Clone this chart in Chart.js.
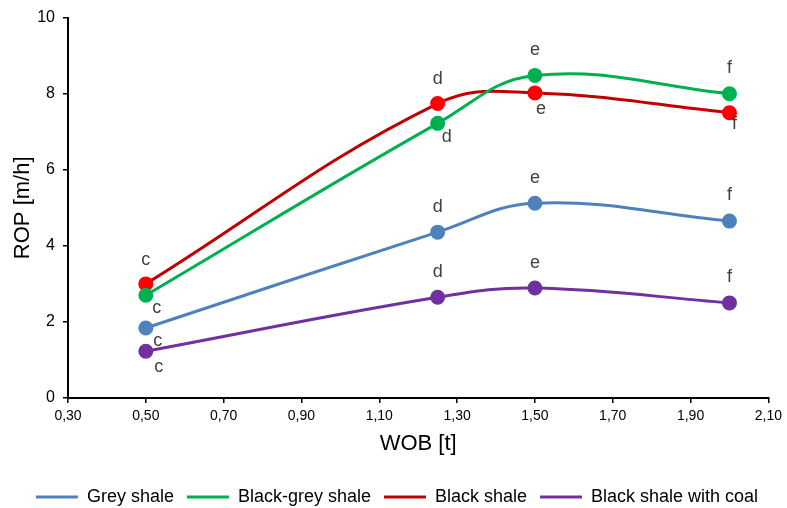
<!DOCTYPE html>
<html>
<head>
<meta charset="utf-8">
<script src="https://cdn.jsdelivr.net/npm/chart.js@4/dist/chart.umd.min.js"></script>
<style>
  html, body { margin: 0; padding: 0; background: #fff; overflow: hidden; }
  #wrap { width: 787px; height: 516px; }
</style>
</head>
<body>
<div id="wrap"><canvas id="chart"></canvas></div>
<script>
const wob = [0.5, 1.25, 1.5, 2.0];
const pointLetters = ['c', 'd', 'e', 'f'];
const greyShale = [1.84, 4.36, 5.12, 4.65];
const blackGreyShale = [2.7, 7.22, 8.48, 8.0];
const blackShale = [3.0, 7.74, 8.02, 7.5];
const blackShaleCoal = [1.23, 2.65, 2.89, 2.5];
const xTicks = [0.3, 0.5, 0.7, 0.9, 1.1, 1.3, 1.5, 1.7, 1.9, 2.1];

const FONT = '"Liberation Sans", Arial, sans-serif';

// where each letter sits relative to its point [dx, dy]
const labelOffsets = {
    'Grey shale': [[12, 13], [0, -25], [0, -25], [0, -26]],
    'Black-grey shale': [[11, 13], [9, 14], [0, -25], [0, -26]],
    'Black shale': [[0, -24], [0, -25], [6, 16], [5, 11]],
    'Black shale with coal': [[13, 16], [0, -25], [0, -25], [0, -26]]
};

function series(label, values, line, marker) {
    return {
        label: label,
        data: values.map((v, i) => ({ x: wob[i], y: v })),
        borderColor: line,
        backgroundColor: line,
        pointBackgroundColor: marker,
        pointBorderColor: marker,
        pointRadius: 6,
        pointHoverRadius: 6,
        borderWidth: 3,
        tension: 0.4,
        fill: false
    };
}

const letterPlugin = {
    id: 'letters',
    afterLayout(chart) {
        // legend sits a little right of centre in the original
        chart.legend.left += 12;
        chart.legend.right += 12;
    },
    afterDatasetsDraw(chart) {
        const ctx = chart.ctx;
        ctx.save();
        ctx.font = '18px ' + FONT;
        ctx.fillStyle = '#404040';
        ctx.textAlign = 'center';
        ctx.textBaseline = 'middle';
        chart.data.datasets.forEach((ds, di) => {
            const meta = chart.getDatasetMeta(di);
            meta.data.forEach((pt, i) => {
                const off = labelOffsets[ds.label][i];
                ctx.fillText(pointLetters[i], pt.x + off[0], pt.y + off[1]);
            });
        });
        ctx.restore();
    }
};

const ctx = document.getElementById('chart').getContext('2d');

new Chart(ctx, {
    type: 'line',
    data: {
        datasets: [
            series('Grey shale', greyShale, '#4F81BD', '#4F81BD'),
            series('Black-grey shale', blackGreyShale, '#00B050', '#00B050'),
            series('Black shale', blackShale, '#C00000', '#FF0000'),
            series('Black shale with coal', blackShaleCoal, '#7030A0', '#7030A0')
        ]
    },
    options: {
        responsive: true,
        maintainAspectRatio: false,
        animation: false,
        layout: { padding: { left: 0, right: 17, top: 17, bottom: 0 } },
        plugins: {
            tooltip: { enabled: false },
            legend: {
                position: 'bottom',
                labels: {
                    color: '#000',
                    font: { family: FONT, size: 18 },
                    usePointStyle: true,
                    pointStyle: 'line',
                    pointStyleWidth: 42,
                    padding: 13,
                    boxHeight: 3,
                    generateLabels: chart => Chart.defaults.plugins.legend.labels.generateLabels(chart)
                        .map((l, i) => ({ ...l, strokeStyle: chart.data.datasets[i].borderColor, lineWidth: 3 }))
                }
            }
        },
        scales: {
            x: {
                type: 'linear',
                min: 0.3,
                max: 2.1,
                afterBuildTicks: s => { s.ticks = xTicks.map(v => ({ value: v })); },
                afterFit: s => { s.height = 77; },
                ticks: {
                    color: '#000',
                    font: { family: FONT, size: 14 },
                    maxRotation: 0,
                    padding: 5,
                    callback: v => v.toFixed(2).replace('.', ',')
                },
                grid: { drawOnChartArea: false, drawTicks: true, tickLength: 5, color: '#000', lineWidth: 1.5 },
                border: { color: '#000', width: 2 },
                title: {
                    display: true,
                    text: 'WOB [t]',
                    color: '#000',
                    font: { family: FONT, size: 22 },
                    padding: { top: 0, bottom: 18 }
                }
            },
            y: {
                min: 0,
                max: 10,
                afterFit: s => { s.width = 68; },
                ticks: {
                    stepSize: 2,
                    color: '#000',
                    font: { family: FONT, size: 16 },
                    padding: 8
                },
                grid: { drawOnChartArea: false, drawTicks: true, tickLength: 5, color: '#000', lineWidth: 1.5 },
                border: { color: '#000', width: 2 },
                title: {
                    display: true,
                    text: 'ROP [m/h]',
                    color: '#000',
                    font: { family: FONT, size: 22 },
                    padding: { top: 10, bottom: 0 }
                }
            }
        }
    },
    plugins: [letterPlugin]
});
</script>
</body>
</html>
